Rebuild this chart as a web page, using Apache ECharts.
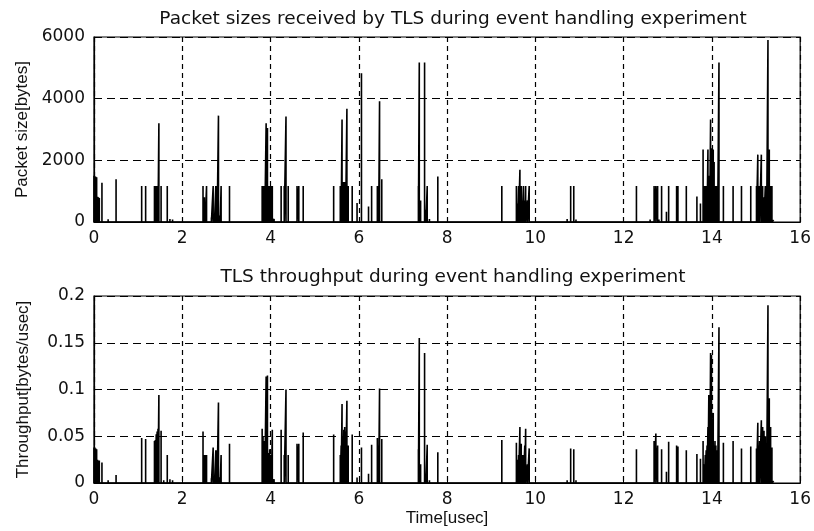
<!DOCTYPE html>
<html lang="en">
<head>
<meta charset="UTF-8">
<title>TLS packet sizes and throughput</title>
<script src="https://cdn.jsdelivr.net/npm/echarts@6/dist/echarts.min.js"></script>
<style>
    html, body { margin: 0; padding: 0; background: #fff; }
    #main { width: 814px; height: 531px; }
</style>
</head>
<body>
<div id="main"></div>
<script>
    // one entry per received packet: time [usec], size [bytes], throughput [bytes/usec]
    var times = [
        0.00, 0.02, 0.04, 0.06, 0.08, 0.10, 0.12, 0.18, 0.32, 0.50, 0.77,
        1.08, 1.17, 1.23, 1.37, 1.39, 1.41, 1.43, 1.45, 1.47, 1.52, 1.58, 1.66, 1.72, 1.78, 1.85, 2.05, 2.20, 2.30,
        2.47, 2.50, 2.52, 2.55, 2.60, 2.66, 2.70, 2.73, 2.76, 2.79, 2.82, 2.86, 2.88, 3.07, 3.30, 3.50, 3.65,
        3.81, 3.83, 3.85, 3.87, 3.90, 3.93, 3.96, 3.98, 4.00, 4.02, 4.04, 4.08,
        4.24, 4.31, 4.35, 4.40, 4.60, 4.64, 4.74, 4.80, 4.90, 5.00, 5.10, 5.20, 5.30,
        5.43, 5.58, 5.60, 5.62, 5.64, 5.66, 5.68, 5.70, 5.73, 5.76, 5.85, 5.96, 6.06,
        6.22, 6.29, 6.42, 6.45, 6.47, 6.52, 6.70, 6.90, 7.10, 7.20,
        7.35, 7.37, 7.40, 7.49, 7.52, 7.55, 7.60, 7.79, 7.85, 8.50,
        9.24, 9.33, 9.40, 9.57, 9.60, 9.62, 9.65, 9.68, 9.70, 9.73, 9.76, 9.78, 9.82, 9.86, 9.90,
        10.72, 10.80, 10.87, 10.92, 11.55,
        12.29, 12.50, 12.55, 12.60, 12.64, 12.69, 12.73, 12.77, 12.80, 12.86, 12.97, 13.02, 13.10,
        13.20, 13.23, 13.30, 13.42, 13.55, 13.66, 13.74,
        13.80, 13.83, 13.85, 13.87, 13.89, 13.91, 13.93, 13.95, 13.97, 13.99, 14.01, 14.03, 14.05,
        14.07, 14.09, 14.11, 14.13, 14.16, 14.26, 14.48, 14.67, 14.88,
        15.01, 15.04, 15.06, 15.08, 15.12, 15.15, 15.18, 15.21, 15.24, 15.27, 15.30, 15.33, 15.36, 15.40
    ];
    var sizes = [
        1500, 1480, 1470, 1450, 820, 800, 780, 1270, 90, 1390, 40,
        1170, 1170, 40, 1170, 1170, 1170, 1170, 1170, 3200, 1170, 60, 1170, 100, 80, 30, 40, 30, 30,
        1170, 800, 500, 1170, 60, 150, 1170, 200, 1170, 1170, 3450, 200, 1170, 1170, 30, 30, 30,
        1170, 1170, 1170, 1170, 3200, 3050, 1170, 1170, 1170, 1170, 1170, 100,
        1170, 1170, 3420, 1170, 1170, 1170, 1170, 60, 30, 30, 30, 30, 30,
        1170, 1170, 1170, 3325, 1300, 1300, 1300, 1300, 3670, 1170, 1170, 620, 4825,
        500, 1170, 1170, 1170, 3920, 1390, 40, 30, 30, 40,
        1170, 5170, 700, 5170, 400, 1170, 100, 1477, 40, 40,
        1170, 40, 40, 1170, 600, 1170, 1695, 1170, 700, 1170, 700, 1170, 700, 1170, 60,
        100, 1170, 1170, 80, 40,
        1170, 40, 60, 80, 50, 1170, 1170, 1170, 80, 1170, 335, 1170, 50,
        1170, 1170, 60, 1170, 40, 825, 600,
        2350, 1170, 1170, 1170, 1170, 2350, 1500, 1500, 3325, 2390, 2350, 2350, 1950,
        1170, 1170, 1170, 1170, 5170, 1170, 1170, 1170, 1170,
        1170, 2185, 1170, 1170, 2185, 1170, 800, 1170, 1170, 5900, 2350, 1170, 1170, 60
    ];
    var rates = [
        0.038, 0.038, 0.037, 0.036, 0.025, 0.024, 0.024, 0.022, 0.003, 0.0086, 0.001,
        0.048, 0.047, 0.002, 0.045, 0.046, 0.052, 0.055, 0.058, 0.094, 0.056, 0.003, 0.030, 0.004, 0.003, 0.001, 0.001, 0.001, 0.001,
        0.055, 0.030, 0.030, 0.030, 0.002, 0.005, 0.038, 0.006, 0.035, 0.035, 0.086, 0.006, 0.030, 0.042, 0.001, 0.001, 0.001,
        0.058, 0.050, 0.045, 0.040, 0.114, 0.115, 0.032, 0.036, 0.030, 0.030, 0.057, 0.004,
        0.057, 0.030, 0.100, 0.030, 0.042, 0.042, 0.054, 0.002, 0.001, 0.001, 0.001, 0.001, 0.001,
        0.052, 0.030, 0.040, 0.0845, 0.050, 0.057, 0.060, 0.055, 0.088, 0.040, 0.052, 0.006, 0.038,
        0.010, 0.041, 0.048, 0.040, 0.101, 0.047, 0.002, 0.001, 0.001, 0.002,
        0.036, 0.155, 0.020, 0.139, 0.010, 0.041, 0.003, 0.033, 0.001, 0.001,
        0.046, 0.002, 0.002, 0.043, 0.025, 0.030, 0.060, 0.042, 0.030, 0.030, 0.040, 0.058, 0.020, 0.037, 0.002,
        0.003, 0.037, 0.036, 0.003, 0.001,
        0.036, 0.001, 0.002, 0.002, 0.002, 0.045, 0.053, 0.040, 0.002, 0.036, 0.012, 0.044, 0.002,
        0.040, 0.039, 0.002, 0.035, 0.001, 0.031, 0.026,
        0.045, 0.020, 0.030, 0.035, 0.040, 0.060, 0.094, 0.080, 0.139, 0.137, 0.069, 0.075, 0.040,
        0.045, 0.040, 0.035, 0.030, 0.1665, 0.043, 0.045, 0.037, 0.039,
        0.037, 0.0645, 0.040, 0.045, 0.067, 0.060, 0.056, 0.050, 0.040, 0.190, 0.0906, 0.060, 0.038, 0.002
    ];

    var timeTicks = [0, 2, 4, 6, 8, 10, 12, 14, 16];
    var sizeTicks = [0, 2000, 4000, 6000];
    var rateTicks = [0, 0.05, 0.1, 0.15, 0.2];

    var tickFont = 'DejaVu Sans';
    var nameFont = 'Liberation Sans';

    // each packet becomes a vertical stroke from the baseline, like matlab's plot of a sparse trace
    function spikes(vals) {
        var d = [];
        for (var i = 0; i < times.length; i++) {
            d.push([times[i], 0], [times[i], vals[i]], [times[i], 0]);
        }
        return d;
    }

    // plain numbers, no thousands separator
    function plain(v) { return String(v); }

    function xAxisFor(idx, name) {
        return {
            type: 'value', gridIndex: idx,
            min: timeTicks[0], max: timeTicks[timeTicks.length - 1],
            interval: timeTicks[1] - timeTicks[0],
            name: name, nameLocation: 'middle', nameGap: 27,
            nameTextStyle: { fontFamily: nameFont, fontSize: 17, color: '#111' },
            axisLine: { show: true, lineStyle: { color: '#000', width: 1.2 } },
            axisTick: { show: true, inside: true, length: 5, lineStyle: { color: '#000' } },
            axisLabel: { fontFamily: tickFont, fontSize: 17, color: '#111', margin: 8, formatter: plain },
            splitLine: { show: true, lineStyle: { color: '#000', type: [5, 4], width: 1.2 } }
        };
    }

    function yAxisFor(idx, ticks, name) {
        return {
            type: 'value', gridIndex: idx,
            min: ticks[0], max: ticks[ticks.length - 1],
            interval: ticks[1] - ticks[0],
            name: name, nameLocation: 'middle', nameGap: 62, nameRotate: 90,
            nameTextStyle: { fontFamily: nameFont, fontSize: 17, color: '#111' },
            axisLine: { show: true, lineStyle: { color: '#000', width: 1.2 } },
            axisTick: { show: true, inside: true, length: 5, lineStyle: { color: '#000' } },
            axisLabel: { fontFamily: tickFont, fontSize: 17, color: '#111', margin: 9, formatter: plain },
            splitLine: { show: true, lineStyle: { color: '#000', type: [8, 5], width: 1.2 } }
        };
    }

    var chart = echarts.init(document.getElementById('main'), null, { renderer: 'canvas' });

    chart.setOption({
        backgroundColor: '#fff',
        animation: false,
        title: [
            { text: 'Packet sizes received by TLS during event handling experiment',
              left: 448, top: 5, textAlign: 'center',
              textStyle: { fontFamily: tickFont, fontSize: 18.5, fontWeight: 'normal', color: '#111' } },
            { text: 'TLS throughput during event handling experiment',
              left: 448, top: 263, textAlign: 'center',
              textStyle: { fontFamily: tickFont, fontSize: 18.5, fontWeight: 'normal', color: '#111' } }
        ],
        grid: [
            { left: 94, top: 37, width: 709, height: 185, show: true, borderColor: '#000', borderWidth: 1.2 },
            { left: 94, top: 296, width: 709, height: 187, show: true, borderColor: '#000', borderWidth: 1.2 }
        ],
        xAxis: [xAxisFor(0, ''), xAxisFor(1, 'Time[usec]')],
        yAxis: [yAxisFor(0, sizeTicks, 'Packet size[bytes]'), yAxisFor(1, rateTicks, 'Throughput[bytes/usec]')],
        series: [
            { type: 'line', xAxisIndex: 0, yAxisIndex: 0, data: spikes(sizes),
              showSymbol: false, lineStyle: { color: '#000', width: 1.6 } },
            { type: 'line', xAxisIndex: 1, yAxisIndex: 1, data: spikes(rates),
              showSymbol: false, lineStyle: { color: '#000', width: 1.6 } }
        ]
    });
</script>
</body>
</html>
